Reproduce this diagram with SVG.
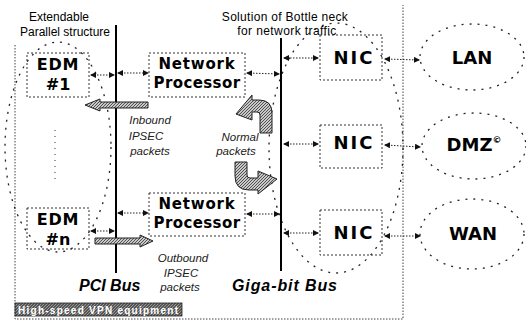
<svg xmlns="http://www.w3.org/2000/svg" width="526" height="326" viewBox="0 0 526 326">
<style>
.box{fill:none;stroke:#333;stroke-width:1;stroke-dasharray:2 2}
.ell{fill:none;stroke:#222;stroke-width:1.3;stroke-dasharray:2 6}
.frame{fill:none;stroke:#444;stroke-width:1;stroke-dasharray:1.5 1.5}
.bus{stroke:#000;stroke-width:2;fill:none}
.conn{stroke:#222;stroke-width:1;stroke-dasharray:1.5 1.5;marker-start:url(#ah);marker-end:url(#ah)}
.big{font-family:"DejaVu Sans",sans-serif;font-weight:bold;font-size:18px;fill:#000;text-anchor:middle}
.edm{font-family:"DejaVu Sans",sans-serif;font-weight:bold;font-size:16px;fill:#000;text-anchor:middle}
.np{font-family:"DejaVu Sans",sans-serif;font-weight:bold;font-size:15px;fill:#000;text-anchor:middle}
.cap{font-family:"Liberation Sans",Arial,sans-serif;font-size:12px;fill:#000;text-anchor:middle}
.it{font-family:"Liberation Sans",Arial,sans-serif;font-style:italic;font-size:11.5px;fill:#222;text-anchor:middle}
.busl{font-family:"Liberation Sans",Arial,sans-serif;font-style:italic;font-weight:bold;font-size:16px;fill:#000}
.hat{fill:url(#hatch);stroke:#222;stroke-width:1}
</style>
<defs>
<marker id="ah" viewBox="0 0 6 6" refX="5" refY="3" markerWidth="6" markerHeight="6" markerUnits="userSpaceOnUse" orient="auto-start-reverse">
<path d="M0,0 L6,3 L0,6 Z" fill="#111"/>
</marker>
<pattern id="hatch" patternUnits="userSpaceOnUse" width="3" height="3">
<rect width="3" height="3" fill="#c8c8c8"/>
<path d="M0,3 L3,0" stroke="#444" stroke-width="0.9"/>
</pattern>
<pattern id="dhatch" patternUnits="userSpaceOnUse" width="3" height="3">
<rect width="3" height="3" fill="#555"/>
<path d="M0,3 L3,0" stroke="#aaa" stroke-width="0.8"/>
</pattern>
</defs>

<g id="frame">
<path class="frame" d="M15,45 L15,319 L403,319 L403,5"/>
</g>

<g id="titles">
<text class="cap" x="59" y="21" font-size="12.5">Extendable</text>
<text class="cap" x="65" y="36" font-size="12.5">Parallel structure</text>
<text class="cap" x="285" y="21" letter-spacing="0.3">Solution of Bottle  neck</text>
<text class="cap" x="287" y="35" letter-spacing="0.4">for network traffic</text>
</g>

<g id="groups">
<ellipse class="ell" cx="58" cy="147" rx="53" ry="105"/>
<ellipse class="ell" cx="336" cy="148" rx="67" ry="125"/>
<path d="M55,130 L55,184" stroke="#333" stroke-width="1" stroke-dasharray="1 5"/>
</g>

<g id="buses">
<line class="bus" x1="116" y1="25" x2="116" y2="273"/>
<line class="bus" x1="281" y1="38" x2="281" y2="271" stroke-width="1.8"/>
<text class="busl" x="79" y="291">PCI Bus</text>
<text class="busl" x="232" y="291" letter-spacing="0.9">Giga-bit Bus</text>
</g>

<g id="edm1">
<rect class="box" x="27" y="53" width="62" height="44"/>
<text class="edm" x="58" y="70" letter-spacing="0.8">EDM</text>
<text class="edm" x="58" y="90">#1</text>
</g>
<g id="edmn">
<rect class="box" x="27" y="208" width="62" height="41"/>
<text class="edm" x="58" y="225" letter-spacing="0.8">EDM</text>
<text class="edm" x="58" y="245">#n</text>
</g>

<g id="np1">
<rect class="box" x="149" y="53" width="96" height="44"/>
<text class="np" x="197" y="69" letter-spacing="0.8">Network</text>
<text class="np" x="197" y="88" letter-spacing="0.4">Processor</text>
</g>
<g id="np2">
<rect class="box" x="149" y="193" width="96" height="43"/>
<text class="np" x="197" y="209" letter-spacing="0.8">Network</text>
<text class="np" x="197" y="228" letter-spacing="0.4">Processor</text>
</g>

<g id="nic1">
<rect class="box" x="320" y="35" width="62" height="45"/>
<text class="big" x="354" y="64" letter-spacing="2">NIC</text>
</g>
<g id="nic2">
<rect class="box" x="320" y="125" width="62" height="43"/>
<text class="big" x="354" y="149" letter-spacing="2">NIC</text>
</g>
<g id="nic3">
<rect class="box" x="320" y="210" width="62" height="45"/>
<text class="big" x="354" y="239" letter-spacing="2">NIC</text>
</g>

<g id="lan">
<ellipse class="ell" cx="472" cy="57" rx="52" ry="33"/>
<text class="big" x="472" y="64">LAN</text>
</g>
<g id="dmz">
<ellipse class="ell" cx="474" cy="146" rx="52" ry="33"/>
<text class="big" x="474" y="151">DMZ<tspan font-size="9" dy="-8">©</tspan></text>
</g>
<g id="wan">
<ellipse class="ell" cx="472" cy="234" rx="52" ry="35"/>
<text class="big" x="473" y="240">WAN</text>
</g>

<g id="connectors">
<line class="conn" x1="91" y1="75" x2="114" y2="75"/>
<line class="conn" x1="118" y1="73" x2="148" y2="73"/>
<line class="conn" x1="247" y1="73" x2="279" y2="74"/>
<line class="conn" x1="284" y1="58" x2="318" y2="58"/>
<line class="conn" x1="385" y1="59" x2="419" y2="60"/>
<line class="conn" x1="284" y1="144" x2="318" y2="144"/>
<line class="conn" x1="385" y1="145" x2="420" y2="147"/>
<line class="conn" x1="91" y1="231" x2="114" y2="231"/>
<line class="conn" x1="118" y1="213" x2="148" y2="213"/>
<line class="conn" x1="247" y1="214" x2="279" y2="214"/>
<line class="conn" x1="284" y1="233" x2="318" y2="233"/>
<line class="conn" x1="385" y1="236" x2="420" y2="236"/>
</g>

<g id="flows">
<path class="hat" d="M148,102 L100,102 L100,99 L85,105 L100,111 L100,108 L148,108 Z"/>
<path class="hat" d="M95,238 L140,238 L140,235 L153,241 L140,247 L140,244 L95,244 Z"/>
<path class="hat" d="M260,133 L272,133 L272,113 Q272,100 259,100 L252,100 L252,95 L236,114 L252,120 L252,112 L257,112 Q260,112 260,115 Z"/>
<path class="hat" d="M235,162 L247,162 L247,175 Q247,178 250,178 L258,178 L258,171 L277,179 L258,194 L258,190 L249,190 Q235,190 235,176 Z"/>
<text class="it" x="150" y="124">Inbound</text>
<text class="it" x="146" y="140">IPSEC</text>
<text class="it" x="150" y="155">packets</text>
<text class="it" x="183" y="262">Outbound</text>
<text class="it" x="181" y="277">IPSEC</text>
<text class="it" x="180" y="291">packets</text>
<text class="it" x="240" y="141">Normal</text>
<text class="it" x="236" y="155">packets</text>
</g>

<g id="label">
<rect x="15" y="303" width="167" height="13" fill="url(#dhatch)" stroke="#222" stroke-width="0.8"/>
<text x="18" y="313.5" font-family="Liberation Sans, Arial, sans-serif" font-weight="bold" font-size="10" fill="#fff" textLength="160" lengthAdjust="spacing">High-speed VPN equipment</text>
</g>
</svg>
